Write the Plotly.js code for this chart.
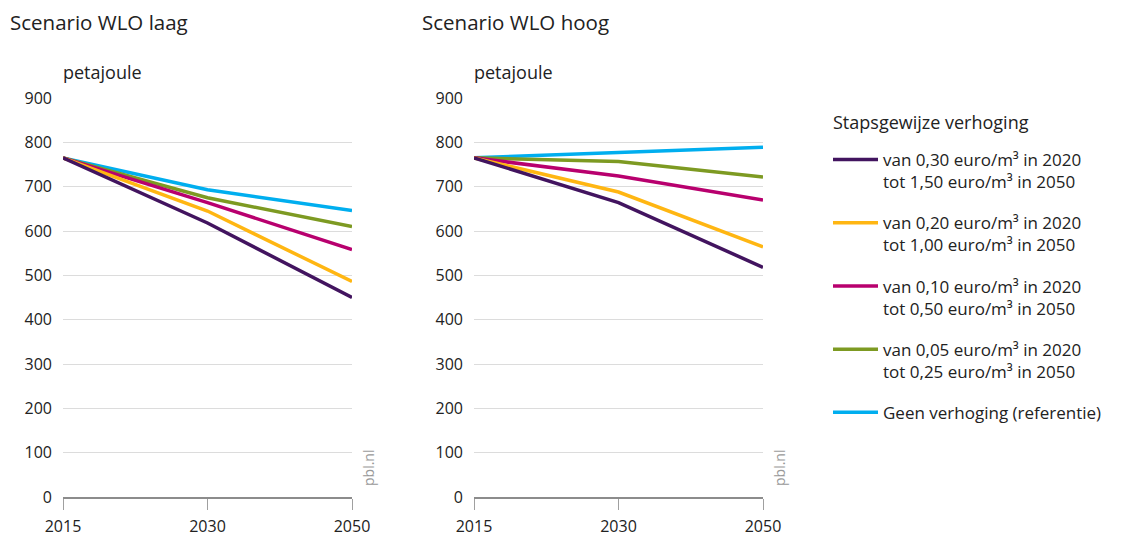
<!DOCTYPE html>
<html>
<head>
<meta charset="utf-8">
<script src="https://cdn.plot.ly/plotly-3.0.1.min.js"></script>
<style>html,body{margin:0;padding:0;background:#fff}#chart{width:1125px;height:539px}</style>
</head>
<body>
<div id="chart"></div>
<script>
const years = ["2015", "2030", "2050"];
const seriesNames = [
  "van 0,30 euro/m³ in 2020<br>tot 1,50 euro/m³ in 2050",
  "van 0,20 euro/m³ in 2020<br>tot 1,00 euro/m³ in 2050",
  "van 0,10 euro/m³ in 2020<br>tot 0,50 euro/m³ in 2050",
  "van 0,05 euro/m³ in 2020<br>tot 0,25 euro/m³ in 2050",
  "Geen verhoging (referentie)"
];
const colors = ["#42145f", "#ffb612", "#b8006e", "#7d9a22", "#00aeef"];
// Scenario WLO laag
const laag = [
  [765, 618, 450],
  [765, 645, 486],
  [765, 664, 558],
  [765, 675, 610],
  [765, 693, 646]
];
// Scenario WLO hoog
const hoog = [
  [765, 664, 518],
  [765, 688, 564],
  [765, 724, 670],
  [765, 757, 722],
  [765, 777, 789]
];
const yTicks = [0, 100, 200, 300, 400, 500, 600, 700, 800, 900];
const panelTitles = ["Scenario WLO laag", "Scenario WLO hoog"];
const unitLabel = "petajoule";
const legendTitle = "Stapsgewijze verhoging";
const sourceLabel = "pbl.nl";

const FONT = "'Open Sans', 'Noto Sans', sans-serif";
const traces = [];
for (let i = seriesNames.length - 1; i >= 0; i--) {
  traces.push({x: years, y: laag[i], type: "scatter", mode: "lines", name: seriesNames[i],
    line: {color: colors[i], width: 3.5}, xaxis: "x", yaxis: "y", showlegend: false, legendgroup: "g" + i});
}
for (let i = seriesNames.length - 1; i >= 0; i--) {
  traces.push({x: years, y: hoog[i], type: "scatter", mode: "lines", name: seriesNames[i],
    line: {color: colors[i], width: 3.5}, xaxis: "x2", yaxis: "y2", showlegend: false, legendgroup: "g" + i});
}
for (let i = 0; i < seriesNames.length; i++) {
  traces.push({x: [null], y: [null], type: "scatter", mode: "lines", name: seriesNames[i],
    line: {color: colors[i], width: 3.5}, xaxis: "x2", yaxis: "y2", showlegend: true, legendgroup: "g" + i, legendrank: i});
}

const W = 1125, H = 539;
const px = v => v / W, py = v => 1 - v / H;
const xaxisBase = {
  type: "category", range: [0, 2], showgrid: false, zeroline: false,
  showline: true, linecolor: "#8c8c8c", linewidth: 1.5,
  ticks: "outside", ticklen: 11, tickwidth: 1, tickcolor: "#a0a0a0",
  tickfont: {family: FONT, size: 16, color: "#222"}, ticklabelstandoff: 3, fixedrange: true
};
const yaxisBase = {
  range: [0, 900], tickvals: yTicks, showgrid: true, gridcolor: "#dcdcdc", gridwidth: 1,
  zeroline: false, showline: false, ticks: "", ticklabelstandoff: 10,
  tickfont: {family: FONT, size: 16, color: "#222"}, fixedrange: true
};
const dom1 = [px(63), px(352)], dom2 = [px(474), px(763)];
const ydom = [py(497), py(98)];

const layout = {
  width: W, height: H, margin: {l: 0, r: 0, t: 0, b: 0},
  paper_bgcolor: "#fff", plot_bgcolor: "#fff",
  font: {family: FONT, color: "#222"},
  showlegend: true,
  xaxis: Object.assign({}, xaxisBase, {domain: dom1, anchor: "y"}),
  yaxis: Object.assign({}, yaxisBase, {domain: ydom, anchor: "x"}),
  xaxis2: Object.assign({}, xaxisBase, {domain: dom2, anchor: "y2"}),
  yaxis2: Object.assign({}, yaxisBase, {domain: ydom, anchor: "x2"}),
  legend: {
    x: px(828), y: py(142), xanchor: "left", yanchor: "top",
    font: {family: FONT, size: 17, color: "#222"},
    valign: "top", itemwidth: 45, tracegroupgap: 16, traceorder: "grouped",
    bgcolor: "rgba(0,0,0,0)"
  },
  annotations: [
    {text: panelTitles[0], xref: "paper", yref: "paper", x: px(8), y: py(22), xanchor: "left", yanchor: "middle", showarrow: false, font: {family: FONT, size: 20.5, color: "#222"}},
    {text: panelTitles[1], xref: "paper", yref: "paper", x: px(420), y: py(22), xanchor: "left", yanchor: "middle", showarrow: false, font: {family: FONT, size: 20.5, color: "#222"}},
    {text: unitLabel, xref: "paper", yref: "paper", x: px(61), y: py(72), xanchor: "left", yanchor: "middle", showarrow: false, font: {family: FONT, size: 18, color: "#222"}},
    {text: unitLabel, xref: "paper", yref: "paper", x: px(472), y: py(72), xanchor: "left", yanchor: "middle", showarrow: false, font: {family: FONT, size: 18, color: "#222"}},
    {text: legendTitle, xref: "paper", yref: "paper", x: px(831), y: py(122), xanchor: "left", yanchor: "middle", showarrow: false, font: {family: FONT, size: 18, color: "#222"}},
    {text: sourceLabel, xref: "paper", yref: "paper", x: px(368), y: py(468), xanchor: "center", yanchor: "middle", textangle: -90, showarrow: false, font: {family: FONT, size: 14, color: "#999"}},
    {text: sourceLabel, xref: "paper", yref: "paper", x: px(779), y: py(468), xanchor: "center", yanchor: "middle", textangle: -90, showarrow: false, font: {family: FONT, size: 14, color: "#999"}}
  ]
};
Plotly.newPlot("chart", traces, layout, {staticPlot: true, displayModeBar: false});
</script>
</body>
</html>
